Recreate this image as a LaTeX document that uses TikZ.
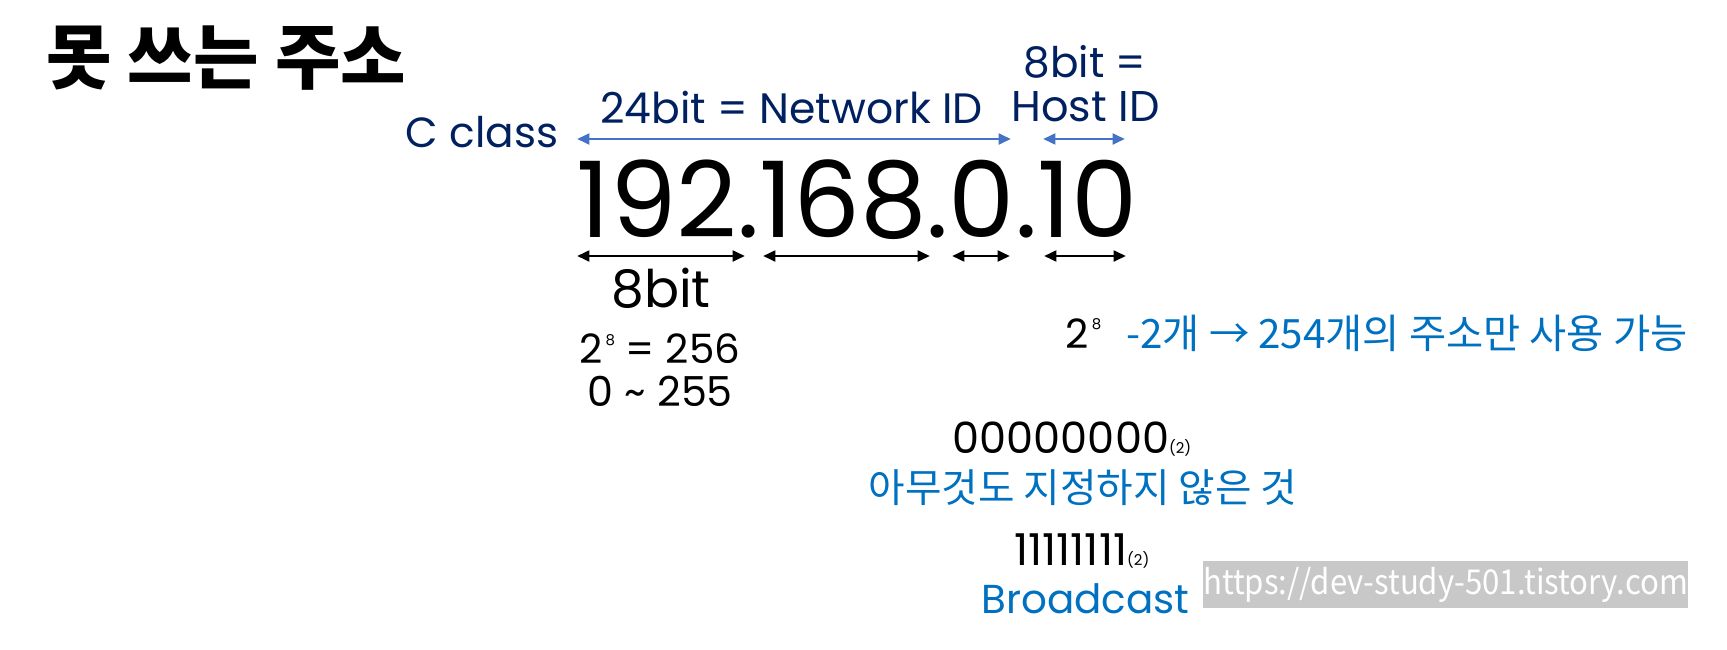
\documentclass[tikz,border=0pt]{standalone}
\usepackage{fontspec}
\setmainfont{Poppins}
\newfontfamily\kr{Noto Sans CJK KR}
\usetikzlibrary{arrows.meta}

\definecolor{navy}{HTML}{002060}
\definecolor{arrowblue}{HTML}{4472C4}
\definecolor{textblue}{HTML}{0070C0}
\definecolor{markgray}{HTML}{C8C8C8}

\newcommand{\fsz}[1]{\fontsize{#1}{#1}\selectfont}
\newcommand{\pw}[1]{\hspace{1.5pt}\raisebox{0.45em}{\fsz{8.5pt}#1}}
\newcommand{\bn}{{\fsz{8.5pt}(2)}}

\begin{document}
\begin{tikzpicture}[x=0.02cm,y=-0.02cm,>={Triangle[length=7pt,width=6pt]}]

    \useasboundingbox (0,0) rectangle (1727,649);

    \node (title) at (226,58) {\kr\bfseries\fsz{40.5pt}못 쓰는 주소};

    \begin{scope}[every node/.style={anchor=base,inner sep=0pt,text=navy}]
        \node (cls) at (482,147) {\fsz{24pt}C class};
        \node (netid) at (791.5,123.3) {\fsz{24.2pt}24bit = Network ID};
        \node (hostbits) at (1085,77.3) {\fsz{24pt}8bit =};
        \node (hostid) at (1085.5,121.7) {\fsz{24.5pt}Host ID};
    \end{scope}

    \node[anchor=base,inner sep=0pt] (ip) at (857,237) {\fsz{60pt}192.168.0.10};

    \coordinate (netL) at (577,139);
    \coordinate (netR) at (1011,139);
    \coordinate (hostL) at (1043,139);
    \coordinate (hostR) at (1125,139);
    \coordinate (o1L) at (577,256);
    \coordinate (o1R) at (745,256);
    \coordinate (o2L) at (763,256);
    \coordinate (o2R) at (930,256);
    \coordinate (o3L) at (952,256);
    \coordinate (o3R) at (1010,256);
    \coordinate (o4L) at (1044,256);
    \coordinate (o4R) at (1126,256);

    \begin{scope}[every edge/.style={draw=arrowblue,line width=1.7pt}]
        \path [<->] (netL) edge (netR);
        \path [<->] (hostL) edge (hostR);
    \end{scope}

    \begin{scope}[every edge/.style={draw=black,line width=1.7pt}]
        \path [<->] (o1L) edge (o1R);
        \path [<->] (o2L) edge (o2R);
        \path [<->] (o3L) edge (o3R);
        \path [<->] (o4L) edge (o4R);
    \end{scope}

    \begin{scope}[every node/.style={anchor=base,inner sep=0pt}]
        \node (bits) at (661,307) {\fsz{29.5pt}8bit};
        \node (pow) at (660,363.3) {\fsz{23pt}2\pw{8} = 256};
        \node (range) at (660.4,406) {\fsz{23.5pt}0 \textasciitilde{} 255};
        \node (pow2) at (1083.6,348) {\fsz{23pt}2\pw{8}};
        \node (zeros) at (1072,453.3) {\fsz{24.5pt}00000000\bn};
        \node (ones) at (1082,565) {\fsz{25pt}11111111\bn};
    \end{scope}

    \begin{scope}[every node/.style={inner sep=0pt,text=textblue}]
        \node[anchor=base west] (usable) at (1126,348) {\kr\fsz{23pt}-2개 → 254개의 주소만 사용 가능};
        \node (zerolbl) at (1082.8,487.5) {\kr\fsz{22.6pt}아무것도 지정하지 않은 것};
        \node[anchor=base] (bcast) at (1085.5,613.3) {\fsz{23pt}Broadcast};
    \end{scope}

    \node[fill=markgray,text=white,inner sep=0pt,minimum width=9.62cm,minimum height=0.946cm] (url) at (1445.5,584.7) {\scalebox{0.91}[1]{\kr\fsz{19.5pt}https://dev-study-501.tistory.com}};

\end{tikzpicture}
\end{document}
